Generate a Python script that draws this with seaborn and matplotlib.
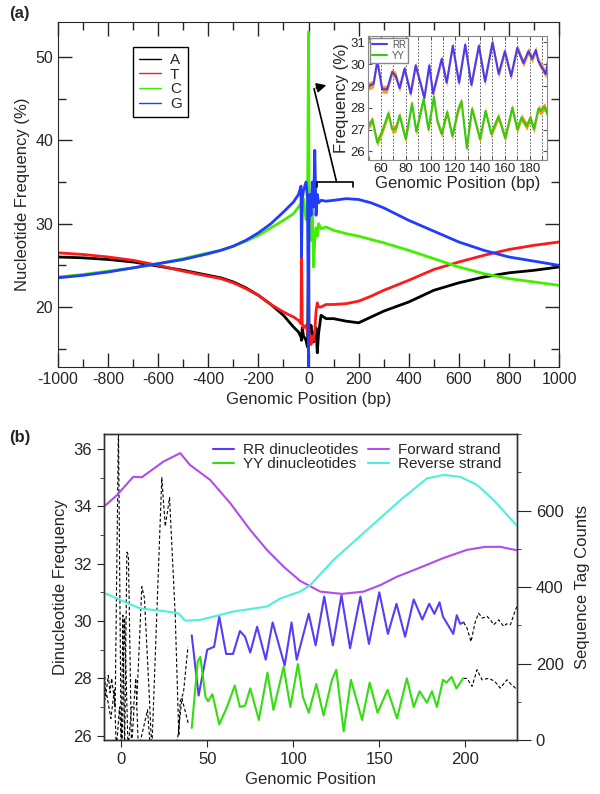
import numpy as np
import pandas as pd
import matplotlib
matplotlib.use("Agg")
import matplotlib.pyplot as plt
import seaborn as sns
from matplotlib.ticker import MultipleLocator
from matplotlib.lines import Line2D

# ---- panel (a): nucleotide frequency around the site
pos_a = [-1000, -900, -800, -700, -600, -500, -400, -350, -300, -250, -200, -150, -100, -60,
         -40, -30, -28, -25, -20, -10, -4, 0, 2, 5, 10, 15, 20, 25, 30, 35, 40, 50, 70, 100,
         150, 200, 250, 300, 400, 500, 600, 700, 800, 900, 1000]
freq_A = [26.0, 25.9, 25.7, 25.4, 24.9, 24.4, 23.8, 23.5, 23.0, 22.3, 21.4, 20.3, 19.0, 17.6,
          17.0, 16.4, 16.0, 17.5, 16.5, 16.0, 15.2, 25.6, 17.0, 16.5, 17.8, 16.5, 15.8, 17.0,
          17.5, 14.5, 16.8, 19.0, 18.6, 18.6, 18.3, 18.1, 18.8, 19.5, 20.6, 22.0, 22.9, 23.6,
          24.1, 24.4, 24.8]
freq_T = [26.5, 26.3, 26.0, 25.6, 25.0, 24.3, 23.7, 23.4, 22.9, 22.2, 21.4, 20.3, 19.4, 18.8,
          18.4, 18.0, 27.2, 18.0, 17.5, 17.8, 17.0, 18.5, 17.0, 16.5, 15.5, 16.5, 16.0, 17.0,
          19.5, 20.5, 20.0, 20.0, 20.3, 20.3, 20.4, 20.7, 21.3, 22.0, 23.2, 24.5, 25.4, 26.2,
          26.9, 27.4, 27.8]
freq_C = [23.6, 23.9, 24.3, 24.7, 25.2, 25.8, 26.5, 26.8, 27.3, 27.9, 28.6, 29.5, 30.4, 31.2,
          32.0, 32.4, 30.0, 32.0, 33.0, 30.5, 31.0, 53.0, 33.0, 30.0, 28.0, 32.0, 24.8, 28.0,
          29.5, 28.5, 30.0, 29.4, 29.6, 29.2, 28.8, 28.5, 28.1, 27.7, 26.8, 25.8, 24.8, 24.0,
          23.4, 23.0, 22.6]
freq_G = [23.5, 23.8, 24.2, 24.7, 25.2, 25.7, 26.4, 26.8, 27.3, 28.0, 28.9, 30.0, 31.4, 32.6,
          33.5, 34.5, 26.0, 33.0, 34.0, 35.0, 33.0, 12.9, 30.0, 33.5, 31.0, 35.0, 32.0, 38.8,
          31.0, 33.5, 32.5, 32.8, 32.7, 32.8, 33.0, 32.9, 32.5, 31.9, 30.4, 29.1, 27.8, 26.8,
          26.0, 25.5, 25.0]
bases = ["A", "T", "C", "G"]
base_colors = ["black", "#ff1a1a", "#44ee00", "#1f3cff"]

# ---- RR / YY dinucleotide frequency (inset of (a) and panel (b))
rr_pos = [41, 45, 50, 54, 57, 61, 65, 69, 72, 75, 79, 84, 88, 95, 99, 102, 109, 113, 118, 123,
          128, 133, 139, 144, 150, 155, 160, 165, 170, 175, 179, 182, 185, 187, 193, 195, 197, 199]
rr_freq = [29.5, 27.4, 29.0, 29.1, 30.15, 28.85, 28.85, 29.65, 29.45, 28.9, 29.8, 28.65, 29.95,
           28.45, 29.95, 28.65, 30.25, 29.15, 30.85, 29.15, 30.9, 29.05, 30.85, 29.2, 31.0, 29.55,
           30.6, 29.45, 30.75, 30.05, 30.6, 30.25, 30.65, 30.15, 29.55, 30.2, 29.9, 29.95]
yy_pos = [41, 44.5, 46, 49, 50.5, 53, 57, 61.5, 66, 69, 72, 75, 80, 85, 88.5, 94.4, 98.3, 102.7,
          105.6, 109, 113.4, 117.6, 122.5, 125, 129.3, 133.5, 140, 144.4, 149, 154.8, 160.3, 166,
          170, 173.4, 177.7, 180.6, 183.5, 187, 189, 192, 194.8, 198.7]
yy_freq = [26.27, 28.6, 28.75, 27.35, 27.2, 27.45, 26.4, 27.0, 27.75, 27.0, 27.05, 27.65, 26.55,
           28.2, 26.9, 28.4, 27.0, 28.5, 27.35, 26.8, 27.8, 26.7, 27.95, 28.3, 26.15, 27.95,
           26.55, 27.85, 26.8, 27.6, 26.6, 28.0, 27.0, 27.55, 27.15, 27.55, 27.0, 27.95, 27.85,
           28.05, 27.65, 28.0]
inset_sem = 0.18

# dashed parts (low coverage) of the dinucleotide curves
rr_lead_pos = [-10, -9, -7.5, -6.5, -5.5, -3.5, -1.6, 0, 1, 2, 3.3, 4.2, 6, 7.5, 9, 12, 13.5,
               16, 17.8, 23.6, 25.6, 28.1, 31.4, 33.5, 34.3, 36.2, 38.8]
rr_lead_freq = [28.65, 27.4, 28.1, 27.5, 28.0, 27.0, 36.8, 25.5, 30.2, 25.5, 32.4, 32.3, 25.5,
                27.0, 27.1, 31.2, 30.8, 27.8, 25.5, 35.0, 33.3, 34.3, 30.2, 26.0, 27.2, 27.5, 29.1]
yy_lead_pos = [-10, -8.3, -6, -4, -2.8, -1, 0.5, 2, 4, 6, 7.2, 8.5, 10, 15.3, 17, 20, 31, 32.8,
               35.3, 37, 39.1]
yy_lead_freq = [27.2, 27.4, 26.6, 27.6, 25.5, 27.0, 25.5, 30.1, 25.5, 27.0, 27.0, 28.0, 25.5,
                26.9, 25.5, 25.5, 25.5, 25.9, 27.3, 26.9, 26.4]
rr_tail_pos = [199, 201, 203.3, 205.8, 207.7, 210, 212.6, 214.5, 216.5, 219.4, 222.3, 224, 226.2, 229.1, 230]
rr_tail_freq = [29.95, 29.75, 29.28, 29.98, 30.27, 30.1, 30.16, 30.05, 29.87, 30.04, 29.81, 29.9,
                29.87, 30.39, 30.5]
yy_tail_pos = [199, 201, 203.9, 206.8, 209.7, 213.6, 217, 220.3, 224.2, 226.5, 229.1, 230]
yy_tail_freq = [28.0, 28.0, 27.72, 28.3, 27.95, 28.0, 27.9, 27.66, 27.95, 27.8, 27.66, 27.7]

# sequence tag counts
fwd_pos = [-10, -2.5, 7, 12, 24.6, 34.3, 40, 51.7, 63.4, 75, 84.7, 94.4, 104, 115.7, 128.3,
           140.9, 150.6, 160.3, 169.9, 177.7, 187.4, 200.9, 211.6, 220.3, 230]
fwd_count = [610, 640, 688, 687, 728, 750, 719, 680, 619, 549, 497, 453, 416, 388, 382, 388,
             405, 427, 444, 458, 476, 497, 505, 505, 496]
rev_pos = [-10, -0.6, 11, 26.6, 33.3, 37.2, 45.9, 65.3, 84.7, 92.4, 104, 109.9, 123.4, 142.8,
           162.2, 177.7, 187.4, 197.1, 206.8, 216.5, 230]
rev_count = [385, 366, 344, 336, 331, 312, 314, 336, 349, 370, 388, 405, 471, 549, 627, 684,
             693, 688, 667, 627, 560]

sns.set_style("ticks")
plt.rcParams['font.family'] = ['Liberation Sans', 'DejaVu Sans']
plt.rcParams['font.size'] = 11
plt.rcParams['axes.unicode_minus'] = False

fig = plt.figure(figsize=(6, 7.94), dpi=100)

# ================= panel (a)
ax_a = fig.add_axes([0.0967, 0.5378, 0.835, 0.4345])
df_a = pd.DataFrame({"pos": pos_a, "A": freq_A, "T": freq_T, "C": freq_C, "G": freq_G})
df_a = df_a.melt(id_vars="pos", var_name="Base", value_name="freq")
sns.lineplot(data=df_a, x="pos", y="freq", hue="Base", hue_order=bases,
             palette=base_colors, estimator=None, lw=2.0, ax=ax_a, legend=False)
ax_a.set_xlim(-1000, 1000)
ax_a.set_ylim(12.8, 54.2)
ax_a.xaxis.set_major_locator(MultipleLocator(200))
ax_a.xaxis.set_minor_locator(MultipleLocator(100))
ax_a.yaxis.set_major_locator(MultipleLocator(10))
ax_a.yaxis.set_minor_locator(MultipleLocator(5))
ax_a.tick_params(which="both", direction="in", top=True, right=True, labelsize=11.5)
ax_a.tick_params(which="major", length=10, width=1)
ax_a.tick_params(which="minor", length=6, width=1)
ax_a.set_xlabel("Genomic Position (bp)", fontsize=12)
ax_a.set_ylabel("Nucleotide Frequency (%)", fontsize=12)
base_handles = [Line2D([], [], color=c, lw=1) for c in base_colors]
leg = ax_a.legend(base_handles, bases, loc="upper left", bbox_to_anchor=(0.15, 0.928),
                  borderaxespad=0, fontsize=11, handlelength=1.4, labelspacing=0.05,
                  handletextpad=0.6, fancybox=False, edgecolor="black", framealpha=1)
leg.get_frame().set_linewidth(1)

# bracket + arrow pointing at inset
ax_a.plot([33, 33, 179, 179], [34.4, 35.0, 35.0, 34.4], color="black", lw=1.2)
ax_a.plot([112, 22], [35.0, 46.2], color="black", lw=1.2)
ax_a.annotate("", xy=(82, 46.7), xytext=(20, 46.2),
              arrowprops=dict(arrowstyle="-|>", color="black", lw=1.2, mutation_scale=14))

fig.text(0.015, 0.977, "(a)", fontsize=12, fontweight="bold")

# inset
ax_in = fig.add_axes([0.6133, 0.7985, 0.2983, 0.1562])
rr_arr = np.array(rr_freq)
yy_arr = np.array(yy_freq)
ax_in.fill_between(rr_pos, rr_arr - inset_sem, rr_arr + inset_sem, color="#ff9922", lw=0)
ax_in.fill_between(yy_pos, yy_arr - inset_sem, yy_arr + inset_sem, color="#ff9922", lw=0)
df_in = pd.concat([pd.DataFrame({"pos": rr_pos, "freq": rr_freq, "kind": "RR"}),
                   pd.DataFrame({"pos": yy_pos, "freq": yy_freq, "kind": "YY"})])
sns.lineplot(data=df_in, x="pos", y="freq", hue="kind", palette=["#4b3cf0", "#33cc11"],
             estimator=None, lw=1.5, ax=ax_in)
for gx in range(60, 200, 10):
    ax_in.axvline(gx, color="#444444", ls=(0, (2, 2)), lw=0.6, zorder=0)
ax_in.set_xlim(49.5, 194)
ax_in.set_ylim(25.6, 31.3)
ax_in.xaxis.set_major_locator(MultipleLocator(20))
ax_in.xaxis.set_minor_locator(MultipleLocator(10))
ax_in.yaxis.set_major_locator(MultipleLocator(1))
ax_in.tick_params(which="both", direction="in", top=True, right=True, labelsize=9.5,
                  length=3, pad=2, color="#555555")
ax_in.set_xlabel("Genomic Position (bp)", fontsize=12, labelpad=1)
ax_in.set_ylabel("Frequency (%)", fontsize=12, labelpad=1)
for s in ax_in.spines.values():
    s.set_color("#888888")
h, l = ax_in.get_legend_handles_labels()
lg = ax_in.legend(h, l, loc="upper left", fontsize=7, handlelength=1.6, labelspacing=0.1,
                  borderpad=0.2, borderaxespad=0.2, fancybox=False, edgecolor="#888888",
                  framealpha=1, handletextpad=0.5)
for t in lg.get_texts():
    t.set_color("#555555")

# ================= panel (b)
ax_b = fig.add_axes([0.1733, 0.068, 0.6883, 0.3854])
ax_t = ax_b.twinx()
for px, py in [(rr_lead_pos, rr_lead_freq), (yy_lead_pos, yy_lead_freq),
               (rr_tail_pos, rr_tail_freq), (yy_tail_pos, yy_tail_freq)]:
    sns.lineplot(x=px, y=py, color="black", lw=0.8, ls=(0, (3, 2)), estimator=None,
                 sort=False, ax=ax_b)
sns.lineplot(x=rr_pos, y=rr_freq, color="#5b3cf5", lw=1.5, estimator=None, ax=ax_b)
sns.lineplot(x=yy_pos, y=yy_freq, color="#33dd11", lw=1.5, estimator=None, ax=ax_b)
sns.lineplot(x=fwd_pos, y=fwd_count, color="#b04cf0", lw=1.5, estimator=None, ax=ax_t)
sns.lineplot(x=rev_pos, y=rev_count, color="#4ff0d8", lw=1.5, estimator=None, ax=ax_t)

ax_b.set_xlim(-10, 230)
ax_b.set_ylim(25.85, 36.52)
ax_t.set_ylim(0, 800)
ax_b.xaxis.set_major_locator(MultipleLocator(50))
ax_b.yaxis.set_major_locator(MultipleLocator(2))
ax_b.yaxis.set_minor_locator(MultipleLocator(1))
ax_t.set_yticks([0, 200, 400, 600])
ax_t.yaxis.set_minor_locator(MultipleLocator(100))
ax_b.tick_params(which="major", direction="out", length=5, labelsize=12)
ax_b.tick_params(which="minor", direction="out", length=3)
ax_t.tick_params(which="major", direction="out", length=10, labelsize=12)
ax_t.tick_params(which="minor", direction="out", length=3)
ax_b.set_xlabel("Genomic Position", fontsize=12)
ax_b.set_ylabel("Dinucleotide Frequency", fontsize=12)
ax_t.set_ylabel("Sequence Tag Counts", fontsize=12, labelpad=8)
for a in (ax_b, ax_t):
    for s in a.spines.values():
        s.set_color("#333333")
        s.set_linewidth(1)

handles = [Line2D([], [], color="#5b3cf5", lw=1.5), Line2D([], [], color="#33dd11", lw=1.5),
           Line2D([], [], color="#b04cf0", lw=1.5), Line2D([], [], color="#4ff0d8", lw=1.5)]
labels = ["RR dinucleotides", "YY dinucleotides", "Forward strand", "Reverse strand"]
ax_t.legend(handles, labels, ncol=2, loc="upper right", bbox_to_anchor=(0.985, 1.0),
            frameon=False, fontsize=11, handlelength=1.4, labelspacing=0.0,
            columnspacing=0.6, handletextpad=0.6, borderaxespad=0.2)

fig.text(0.015, 0.443, "(b)", fontsize=12, fontweight="bold")

fig.savefig("out.png", dpi=100)
